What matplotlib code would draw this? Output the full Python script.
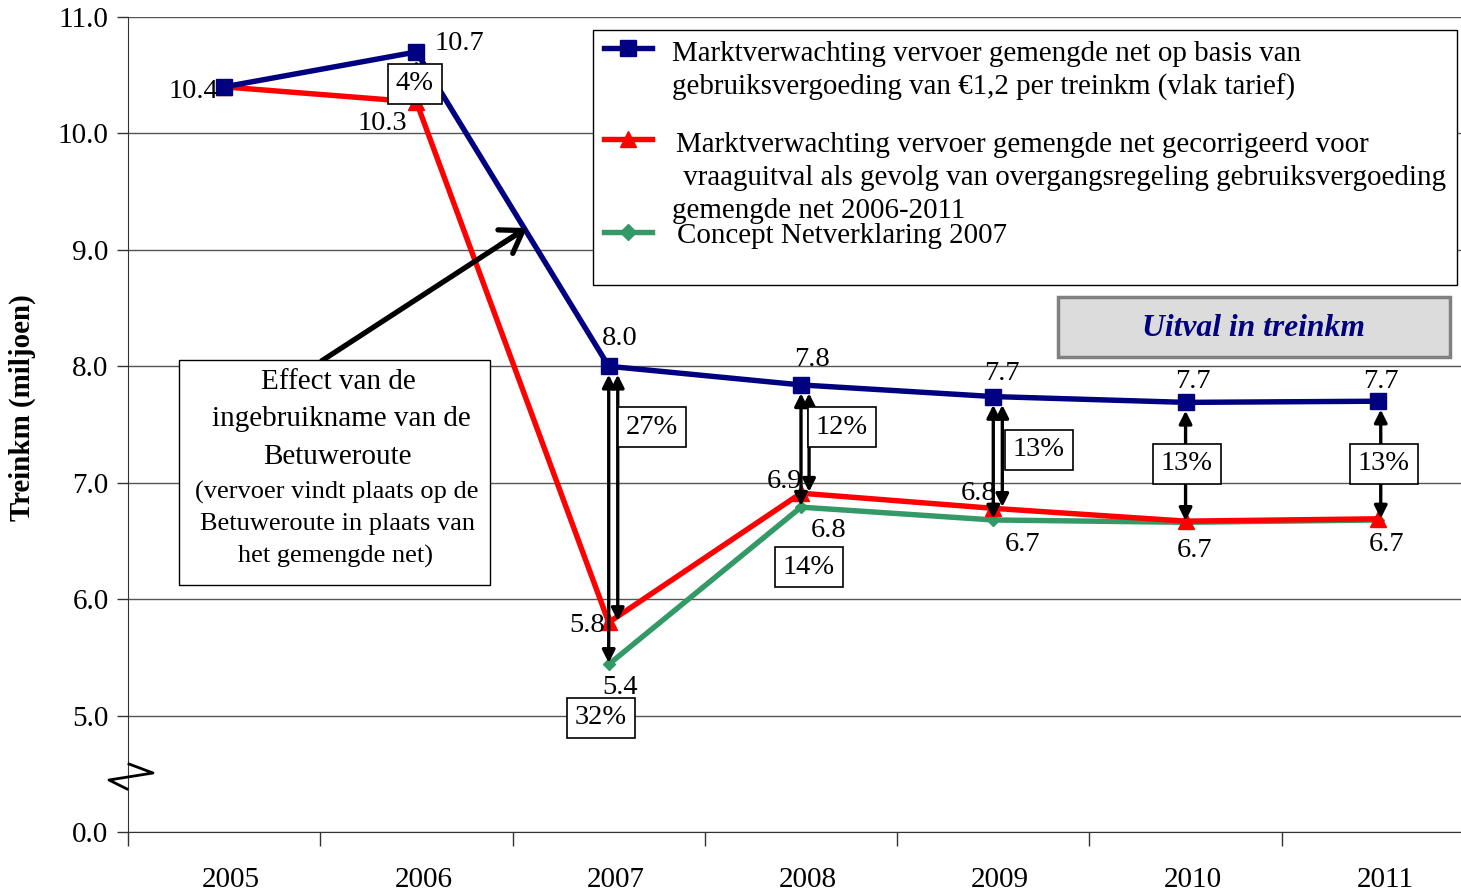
import numpy as np
import matplotlib
matplotlib.use("Agg")
import matplotlib.pyplot as plt
import matplotlib.transforms as mtrans
from matplotlib.lines import Line2D
from matplotlib.patches import Rectangle

plt.rcParams['font.family'] = ['Liberation Serif', 'DejaVu Serif']

# data (miljoen treinkm)
years = ['2005', '2006', '2007', '2008', '2009', '2010', '2011']
blue_vals = [10.4, 10.7, 8.0, 7.84, 7.74, 7.69, 7.70]
red_vals = [10.4, 10.27, 5.80, 6.91, 6.78, 6.67, 6.69]
green_vals = [np.nan, np.nan, 5.44, 6.79, 6.68, 6.66, 6.68]

blue_name = ["Marktverwachting vervoer gemengde net op basis van",
             "gebruiksvergoeding van €1,2 per treinkm (vlak tarief)"]
red_name = ["Marktverwachting vervoer gemengde net gecorrigeerd voor",
            " vraaguitval als gevolg van overgangsregeling gebruiksvergoeding",
            "gemengde net 2006-2011"]
green_name = ["Concept Netverklaring 2007"]

# percentage drop labels
pct_labels = ['4%', '27%', '32%', '12%', '14%', '13%', '13%', '13%']

BLUE = '#000080'
RED = '#ff0000'
GREEN = '#339966'
FS = 20.5

W, H = 1461, 892
fig = plt.figure(figsize=(W / 100, H / 100), dpi=100)
fig.patch.set_facecolor('white')


def fp(x, y):
    # pixel position -> figure fraction
    return (x / W, 1 - y / H)


ax = fig.add_axes([128 / W, (H - 832) / H, 1346 / W, (832 - 17) / H])


# broken y axis: 0..5 squeezed into one unit
def fwd(v):
    v = np.asarray(v, float)
    return np.where(v < 5, 4 + v / 5, v)


def inv(u):
    u = np.asarray(u, float)
    return np.where(u < 5, (u - 4) * 5, u)


ax.set_yscale('function', functions=(fwd, inv))
ax.set_ylim(0, 11)
ax.set_xlim(-0.5, 6.5)

yt = [0, 5, 6, 7, 8, 9, 10, 11]
ax.set_yticks(yt)
ax.set_yticklabels(['%.1f' % t for t in yt], fontsize=21)
ax.yaxis.set_minor_locator(matplotlib.ticker.NullLocator())
ax.tick_params(axis='y', length=8, width=1, color='#333333', pad=6)
ax.yaxis.grid(True, color='#555555', lw=1)
ax.set_axisbelow(True)

x = np.arange(len(years))
ax.set_xticks(np.arange(-0.5, 7, 1))
ax.set_xticklabels([])
ax.set_xticks(x, minor=True)
ax.set_xticklabels(years, minor=True, fontsize=21)
ax.tick_params(axis='x', which='major', length=10, width=1, color='#333333')
ax.tick_params(axis='x', which='minor', length=0, pad=25)
shift = mtrans.ScaledTranslation(7 / 100, 0, fig.dpi_scale_trans)
for lab in ax.get_xticklabels(minor=True):
    lab.set_transform(lab.get_transform() + shift)

for s in ['top', 'right']:
    ax.spines[s].set_visible(False)
ax.spines['left'].set_color('#333333')
ax.spines['bottom'].set_color('#333333')

ax.plot(x, blue_vals, color=BLUE, lw=3.9, marker='s', ms=11, zorder=4, clip_on=False)
ax.plot(x, red_vals, color=RED, lw=3.9, marker='^', ms=12, zorder=3, clip_on=False)
ax.plot(x, green_vals, color=GREEN, lw=3.9, marker='D', ms=6.5, zorder=2, clip_on=False)

# double headed arrows between scenarios
arrows = [(1, red_vals, 0.0), (2, green_vals, 0.0), (2, red_vals, 0.047),
          (3, green_vals, 0.0), (3, red_vals, 0.042), (4, green_vals, 0.0),
          (4, red_vals, 0.047), (5, green_vals, 0.0), (6, green_vals, 0.015)]
for i, vals, dx in arrows:
    ax.annotate('', xy=(i + dx, vals[i]), xytext=(i + dx, blue_vals[i]),
                arrowprops=dict(arrowstyle='<|-|>', color='black', lw=2.4,
                                mutation_scale=19, shrinkA=6, shrinkB=1),
                zorder=5)

# value labels
blue_off = [(-31, -5), (43, 8), (11, 28), (11, 25), (9, 23), (7, 21), (3, 20)]
for i, (dx, dy) in enumerate(blue_off):
    ax.annotate('%.1f' % blue_vals[i], (i, blue_vals[i]), xytext=(dx, dy),
                textcoords='offset pixels', ha='center', va='center', fontsize=FS, zorder=7)
red_off = {1: (-34, -22), 2: (-22, -3), 3: (-16, 12), 4: (-15, 15)}
for i, (dx, dy) in red_off.items():
    ax.annotate('%.1f' % red_vals[i], (i, red_vals[i]), xytext=(dx, dy),
                textcoords='offset pixels', ha='center', va='center', fontsize=FS, zorder=7)
green_off = {2: (11, -23), 3: (28, -23), 4: (29, -25), 5: (9, -28), 6: (9, -25)}
for i, (dx, dy) in green_off.items():
    ax.annotate('%.1f' % green_vals[i], (i, green_vals[i]), xytext=(dx, dy),
                textcoords='offset pixels', ha='center', va='center', fontsize=FS, zorder=7)

# percentage boxes
pct_pos = [(415, 84), (652, 427), (601, 718), (842, 427), (809, 567),
           (1039, 450), (1187, 464), (1384, 464)]
for lab, (px, py) in zip(pct_labels, pct_pos):
    fig.text(*fp(px, py), lab, ha='center', va='center', fontsize=FS, zorder=8,
             bbox=dict(boxstyle='square,pad=0.28', fc='white', ec='black', lw=1.2))

# legend box
fig.add_artist(Rectangle(fp(593, 285), 864 / W, 255 / H, transform=fig.transFigure,
                         fc='white', ec='black', lw=1, zorder=6))
for yy, col, mk, ms in [(48, BLUE, 's', 11), (139, RED, '^', 12), (232, GREEN, 'D', 8)]:
    x0, y0 = fp(604, yy)
    x1, _ = fp(652, yy)
    fig.add_artist(Line2D([x0, (x0 + x1) / 2, x1], [y0, y0, y0], transform=fig.transFigure,
                          color=col, lw=3.9, marker=mk, ms=ms, markevery=[1], zorder=7))
leg_lines = [(672, 54, blue_name[0]), (672, 87, blue_name[1]),
             (676, 145, red_name[0]), (676, 178, red_name[1]), (672, 211, red_name[2]),
             (677, 236, green_name[0])]
for px, py, t in leg_lines:
    fig.text(*fp(px, py), t, ha='left', va='center', fontsize=20.9, zorder=8)

# Uitval box
fig.add_artist(Rectangle(fp(1058, 357), 392 / W, 60 / H, transform=fig.transFigure,
                         fc='#dcdcdc', ec='#808080', lw=2.5, zorder=6))
fig.text(*fp(1253, 328), 'Uitval in treinkm', ha='center', va='center', fontsize=22.8,
         fontweight='bold', fontstyle='italic', color=BLUE, zorder=8)

# Betuweroute note with arrow
fig.add_artist(Line2D([323 / W, 520 / W], [1 - 360 / H, 1 - 232 / H], transform=fig.transFigure,
                      color='black', lw=3.8, zorder=6))
ax.annotate('', xy=fp(527, 228), xytext=fp(500, 245), xycoords='figure fraction',
            textcoords='figure fraction',
            arrowprops=dict(arrowstyle='->,head_length=0.75,head_width=0.5', color='black',
                            lw=3.8, mutation_scale=20, shrinkA=0, shrinkB=0), zorder=6)
fig.add_artist(Rectangle(fp(179, 585), 311 / W, 225 / H, transform=fig.transFigure,
                         fc='white', ec='black', lw=1, zorder=6))
note = [(338, 382, 'Effect van de', 21), (341, 419, 'ingebruikname van de', 21),
        (337, 457, 'Betuweroute', 21), (337, 492, '(vervoer vindt plaats op de', 19),
        (337, 524, 'Betuweroute in plaats van', 19), (335, 556, 'het gemengde net)', 19)]
for px, py, t, fs in note:
    fig.text(*fp(px, py), t, ha='center', va='center', fontsize=fs, zorder=8)

# axis break mark
bx = [129, 153, 109, 127]
by = [764, 773, 780, 789]
fig.add_artist(Line2D([v / W for v in bx], [1 - v / H for v in by], transform=fig.transFigure,
                      color='black', lw=2, zorder=6))

fig.text(*fp(22, 408), 'Treinkm (miljoen)', rotation=90, ha='center', va='center',
         fontsize=20.8, fontweight='bold')

fig.savefig('out.png', dpi=100, facecolor='white')
